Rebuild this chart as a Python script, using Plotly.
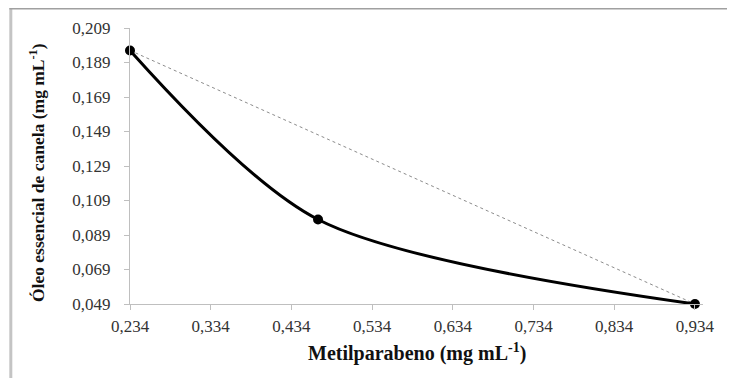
import plotly.graph_objects as go

# Data
metilparabeno = [0.234, 0.467, 0.934]
oleo_canela = [0.196, 0.098, 0.049]
line_x = [0.234, 0.934]
line_y = [0.196, 0.049]
x_ticks = [0.234, 0.334, 0.434, 0.534, 0.634, 0.734, 0.834, 0.934]
y_ticks = [0.049, 0.069, 0.089, 0.109, 0.129, 0.149, 0.169, 0.189, 0.209]
x_title = "<b>Metilparabeno (mg mL<sup>-1</sup>)</b>"
y_title = "<b>Óleo essencial de canela (mg mL<sup>-1</sup>)</b>"

fig = go.Figure()
fig.add_trace(go.Scatter(
    x=line_x, y=line_y, mode="lines",
    line=dict(color="#8c8c8c", width=1, dash="dot"),
    hoverinfo="skip", showlegend=False,
))
fig.add_trace(go.Scatter(
    x=metilparabeno, y=oleo_canela, mode="lines+markers",
    line=dict(color="black", width=3, shape="spline", smoothing=0.85),
    marker=dict(color="black", size=10),
    showlegend=False, cliponaxis=False,
))

font_family = "Liberation Serif"
tick_font = dict(family=font_family, size=17, color="#333")

# the page adds an 8px body margin, so the figure is 8px smaller than the window
fig.update_layout(
    width=727, height=370,
    margin=dict(l=122, r=32, t=20, b=74, autoexpand=False),
    paper_bgcolor="white", plot_bgcolor="white",
    separators=",.",
    font=dict(family=font_family),
    showlegend=False,
    xaxis=dict(
        range=[0.234, 0.944], tickvals=x_ticks, tickformat=".3f",
        showgrid=False, zeroline=False, automargin=False,
        showline=True, linecolor="#bfbfbf", linewidth=1,
        ticks="outside", ticklen=5, tickcolor="#bfbfbf",
        tickfont=tick_font, ticklabelstandoff=2,
    ),
    yaxis=dict(
        range=[0.049, 0.209], tickvals=y_ticks, tickformat=".3f",
        showgrid=False, zeroline=False, automargin=False,
        showline=True, linecolor="#bfbfbf", linewidth=1,
        ticks="outside", ticklen=5, tickcolor="#bfbfbf",
        tickfont=tick_font, ticklabelstandoff=10,
    ),
    annotations=[
        dict(text=x_title, xref="paper", yref="paper", x=0.5, y=-0.175,
             xanchor="center", yanchor="middle", showarrow=False,
             font=dict(family=font_family, size=20, color="#111")),
        dict(text=y_title, xref="paper", yref="paper", x=-0.1624, y=0.478,
             xanchor="center", yanchor="middle", showarrow=False, textangle=-90,
             font=dict(family=font_family, size=17.5, color="#111")),
    ],
    shapes=[
        dict(type="line", xref="paper", yref="paper",
             x0=-0.208, x1=-0.208, y0=1.08, y1=-0.3,
             line=dict(color="#c4c4c4", width=3)),
        dict(type="line", xref="paper", yref="paper",
             x0=-0.2105, x1=1.1, y0=1.0705, y1=1.0705,
             line=dict(color="#a0a0a0", width=2)),
    ],
)

fig.write_html("out.html")
